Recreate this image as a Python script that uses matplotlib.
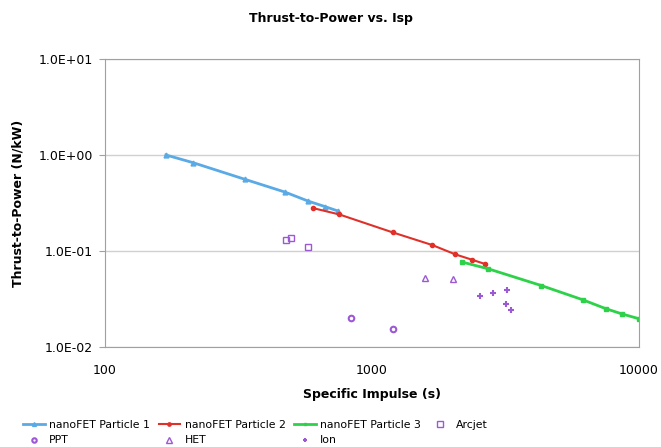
import matplotlib
matplotlib.use("Agg")
import matplotlib.pyplot as plt
from matplotlib.ticker import FixedLocator, FuncFormatter, NullLocator

# nanoFET curves (Isp in s, thrust-to-power in N/kW)
p1_isp = [169, 214, 336, 473, 578, 667, 748]
p1_tp = [1.0, 0.83, 0.555, 0.41, 0.33, 0.29, 0.26]
p2_isp = [600, 755, 1197, 1687, 2057, 2374, 2660]
p2_tp = [0.28, 0.24, 0.156, 0.115, 0.092, 0.081, 0.073]
p3_isp = [2178, 2737, 4327, 6170, 7540, 8690, 10000]
p3_tp = [0.0766, 0.065, 0.0435, 0.031, 0.025, 0.022, 0.0197]

# other thrusters
arcjet_isp = [476, 499, 575]
arcjet_tp = [0.13, 0.135, 0.11]
ppt_isp = [837, 1200]
ppt_tp = [0.020, 0.0155]
het_isp = [1578, 2018]
het_tp = [0.052, 0.051]
ion_isp = [2548, 2857, 3205, 3180, 3320]
ion_tp = [0.034, 0.036, 0.039, 0.028, 0.024]

purple = "#9b59d6"

fig = plt.figure(figsize=(6.61, 4.47), dpi=100)
ax = fig.add_axes([0.159, 0.224, 0.807, 0.644])

h1, = ax.plot(p1_isp, p1_tp, color="#5aaae6", lw=2, marker="^", ms=3.5, label="nanoFET Particle 1")
h2, = ax.plot(p2_isp, p2_tp, color="#e0302a", lw=1.5, marker="o", ms=3, label="nanoFET Particle 2")
h3, = ax.plot(p3_isp, p3_tp, color="#2ed14a", lw=2, marker="s", ms=2.5, label="nanoFET Particle 3")
h4, = ax.plot(arcjet_isp, arcjet_tp, ls="none", marker="s", ms=5, mfc="none", mec=purple, mew=1, label="Arcjet")
h5, = ax.plot(ppt_isp, ppt_tp, ls="none", marker="o", ms=4, mfc="none", mec=purple, mew=1.5, label="PPT")
h6, = ax.plot(het_isp, het_tp, ls="none", marker="^", ms=5, mfc="none", mec=purple, mew=1, label="HET")
h7, = ax.plot(ion_isp, ion_tp, ls="none", marker="+", ms=4, mec=purple, mew=1.5, label="Ion")

ax.set_xscale("log")
ax.set_yscale("log")
ax.set_xlim(100, 10000)
ax.set_ylim(0.01, 10)

ax.xaxis.set_major_locator(FixedLocator([100, 1000, 10000]))
ax.xaxis.set_major_formatter(FuncFormatter(lambda v, p: f"{v:.0f}"))
ax.xaxis.set_minor_locator(NullLocator())
ax.yaxis.set_major_locator(FixedLocator([0.01, 0.1, 1, 10]))
ax.yaxis.set_major_formatter(FuncFormatter(lambda v, p: f"{v:.1E}"))
ax.yaxis.set_minor_locator(NullLocator())

ax.grid(axis="y", color="#d0d0d0", lw=1)
ax.set_axisbelow(True)
for s in ax.spines.values():
    s.set_color("#a0a0a0")
ax.tick_params(labelsize=9, color="#a0a0a0", length=4)
ax.tick_params(axis="x", length=0, pad=12)
ax.tick_params(axis="y", pad=5)

ax.set_xlabel("Specific Impulse (s)", fontsize=9, fontweight="bold", labelpad=8)
ax.set_ylabel("Thrust-to-Power (N/kW)", fontsize=9, fontweight="bold", labelpad=10)
fig.text(0.5, 0.958, "Thrust-to-Power vs. Isp", ha="center", va="center",
         fontsize=9, fontweight="bold")

# column-major order so rows read P1, P2, P3, Arcjet / PPT, HET, Ion
handles = [h1, h5, h2, h6, h3, h7, h4]
fig.legend(handles=handles, labels=[h.get_label() for h in handles],
           loc="lower left", bbox_to_anchor=(0.02, -0.018), ncol=4,
           frameon=False, fontsize=7.8, handlelength=2, columnspacing=0.8,
           handletextpad=0.4, labelspacing=0.5, markerscale=0.8)

fig.savefig("out.png", dpi=100)
